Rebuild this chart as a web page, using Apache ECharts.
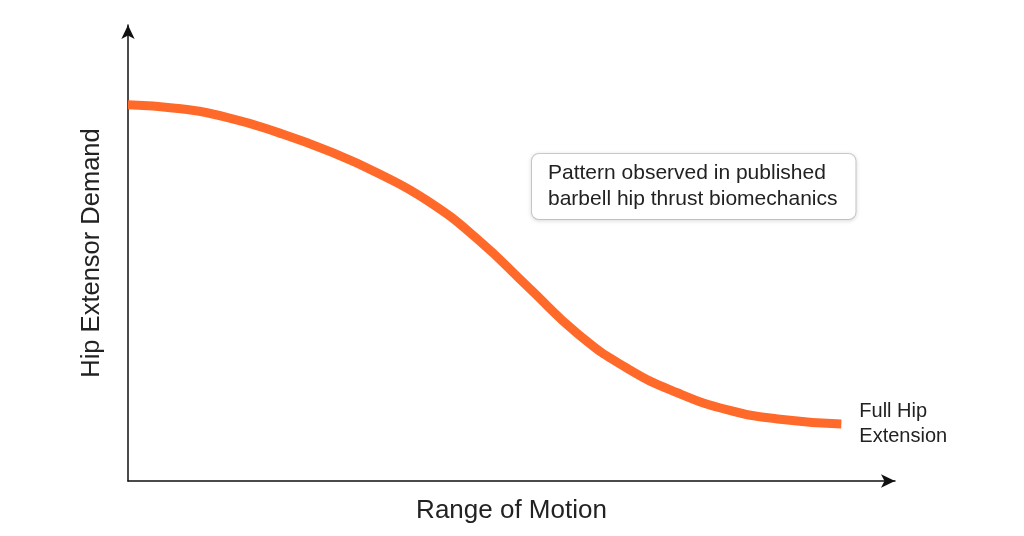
<!DOCTYPE html>
<html>
<head>
<meta charset="utf-8">
<script src="https://cdn.jsdelivr.net/npm/echarts@6/dist/echarts.min.js"></script>
<style>html,body{margin:0;padding:0;background:#fff}#c{width:1024px;height:536px}</style>
</head>
<body>
<div id="c"></div>
<script>
var rangeOfMotion = [0, 6.5, 13.0, 19.6, 26.1, 32.6, 39.1, 45.6, 52.2, 58.7, 65.2, 71.7, 78.2, 84.7, 93.0];
var extensorDemand = [82.5, 81.7, 79.7, 76.4, 72.4, 67.5, 61.4, 53.0, 42.5, 32.2, 24.6, 19.3, 15.6, 13.6, 12.5];
var xAxisTitle = 'Range of Motion';
var yAxisTitle = 'Hip Extensor Demand';
var endNote = 'Full Hip\nExtension';
var boxNote = 'Pattern observed in published\nbarbell hip thrust biomechanics';

var seriesData = rangeOfMotion.map(function (x, i) { return [x, extensorDemand[i]]; });
var font = 'Liberation Sans, Arial, Helvetica, sans-serif';
var chart = echarts.init(document.getElementById('c'));
chart.setOption({
  backgroundColor: '#ffffff',
  animation: false,
  grid: { left: 128, right: 129, top: 25, bottom: 55 },
  xAxis: {
    type: 'value', min: 0, max: 100,
    name: xAxisTitle, nameLocation: 'middle', nameGap: 17,
    nameTextStyle: { fontFamily: font, fontSize: 26, color: '#222' },
    axisLine: { show: true, symbol: ['none', 'arrow'], symbolSize: [10, 14], symbolOffset: [0, 0], lineStyle: { color: '#111', width: 1.5 } },
    axisTick: { show: false }, axisLabel: { show: false }, splitLine: { show: false }
  },
  yAxis: {
    type: 'value', min: 0, max: 100,
    name: yAxisTitle, nameLocation: 'middle', nameGap: 23, nameRotate: 90,
    nameTextStyle: { fontFamily: font, fontSize: 25.5, color: '#222' },
    axisLine: { show: true, symbol: ['none', 'arrow'], symbolSize: [10, 14], symbolOffset: [0, 0], lineStyle: { color: '#111', width: 1.5 } },
    axisTick: { show: false }, axisLabel: { show: false }, splitLine: { show: false }
  },
  graphic: [{
    type: 'text', left: 531, top: 153, z: 10,
    style: {
      text: boxNote, fontFamily: font, fontSize: 21, lineHeight: 26, fill: '#222',
      backgroundColor: '#fff', borderColor: '#cfcfcf', borderWidth: 1, borderRadius: 7,
      padding: [6, 18, 7, 16],
      shadowColor: 'rgba(0,0,0,0.12)', shadowBlur: 4, shadowOffsetY: 1
    }
  }],
  series: [{
    type: 'line', data: seriesData, smooth: true, showSymbol: false, symbol: 'none',
    lineStyle: { color: '#ff6a2a', width: 9, cap: 'butt' },
    endLabel: {
      show: true, formatter: endNote, fontFamily: font, fontSize: 20, lineHeight: 25,
      color: '#222', offset: [10, 0], align: 'left'
    }
  }]
});
</script>
</body>
</html>
